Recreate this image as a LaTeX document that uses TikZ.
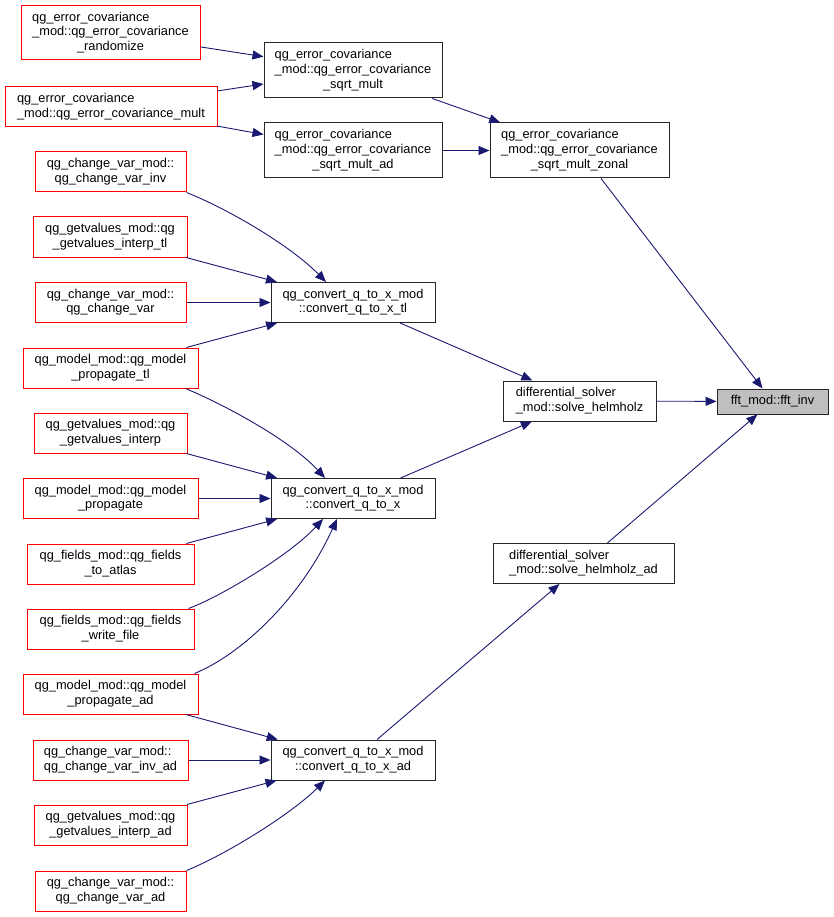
\documentclass[tikz,border=0pt]{standalone}
\usepackage{fontspec}
\setmainfont{Liberation Sans}
\usetikzlibrary{arrows.meta,calc}
\definecolor{edgeblue}{HTML}{191970}
\definecolor{nodegray}{HTML}{BFBFBF}
\newcommand{\dlabel}[2]{\begin{tabular}{@{}l@{}}#1\\\multicolumn{1}{@{}c@{}}{#2}\end{tabular}}
\tikzset{
  boxbase/.style={draw, rectangle, inner sep=0pt, font=\fontsize{12.8}{14.6}\selectfont, line width=1pt},
  redbox/.style={boxbase, draw=red},
  blackbox/.style={boxbase, draw=black!85},
  graybox/.style={boxbase, draw=black!85, fill=nodegray},
  callarrow/.style={draw=edgeblue, line width=0.9pt, -{Triangle[length=11pt,width=9pt]}},
}
\begin{document}
\begin{tikzpicture}[x=1pt,y=-1pt]
\useasboundingbox (0,0) rectangle (833,917);
% right part
\node[graybox, minimum width=111pt, minimum height=25pt] (fft) at (772.5,401.5) {fft\_mod::fft\_inv};
\node[blackbox, minimum width=179pt, minimum height=55pt] (zonal) at (579.5,150.5) {\dlabel{qg\_error\_covariance\\\_mod::qg\_error\_covariance}{\_sqrt\_mult\_zonal}};
\node[blackbox, minimum width=153pt, minimum height=40pt] (helm) at (579.5,401) {\dlabel{differential\_solver}{\_mod::solve\_helmholz}};
\node[blackbox, minimum width=181pt, minimum height=40pt] (helmad) at (583.5,563.5) {\dlabel{differential\_solver}{\_mod::solve\_helmholz\_ad}};
% middle column
\node[blackbox, minimum width=178pt, minimum height=55pt] (sqm) at (353,70.5) {\dlabel{qg\_error\_covariance\\\_mod::qg\_error\_covariance}{\_sqrt\_mult}};
\node[blackbox, minimum width=178pt, minimum height=55pt] (sqmad) at (353,150.5) {\dlabel{qg\_error\_covariance\\\_mod::qg\_error\_covariance}{\_sqrt\_mult\_ad}};
\node[blackbox, minimum width=164pt, minimum height=40pt] (ctl) at (353,302.5) {\dlabel{qg\_convert\_q\_to\_x\_mod}{::convert\_q\_to\_x\_tl}};
\node[blackbox, minimum width=164pt, minimum height=40pt] (cx) at (353,498.5) {\dlabel{qg\_convert\_q\_to\_x\_mod}{::convert\_q\_to\_x}};
\node[blackbox, minimum width=164pt, minimum height=40pt] (cad) at (353,760) {\dlabel{qg\_convert\_q\_to\_x\_mod}{::convert\_q\_to\_x\_ad}};
% left column
\node[redbox, minimum width=179pt, minimum height=54pt] (rand) at (110.5,33) {\dlabel{qg\_error\_covariance\\\_mod::qg\_error\_covariance}{\_randomize}};
\node[redbox, minimum width=212pt, minimum height=40pt] (mult) at (111,107) {\dlabel{qg\_error\_covariance}{\_mod::qg\_error\_covariance\_mult}};
\node[redbox, minimum width=151pt, minimum height=40pt] (cvinv) at (110.5,172) {\dlabel{qg\_change\_var\_mod::}{qg\_change\_var\_inv}};
\node[redbox, minimum width=154pt, minimum height=40pt] (gvtl) at (110,237) {\dlabel{qg\_getvalues\_mod::qg}{\_getvalues\_interp\_tl}};
\node[redbox, minimum width=151pt, minimum height=40pt] (cv) at (110.5,302.5) {\dlabel{qg\_change\_var\_mod::}{qg\_change\_var}};
\node[redbox, minimum width=175pt, minimum height=40pt] (ptl) at (110.5,368) {\dlabel{qg\_model\_mod::qg\_model}{\_propagate\_tl}};
\node[redbox, minimum width=153pt, minimum height=40pt] (gv) at (110.5,433) {\dlabel{qg\_getvalues\_mod::qg}{\_getvalues\_interp}};
\node[redbox, minimum width=175pt, minimum height=40pt] (prop) at (110.5,498.5) {\dlabel{qg\_model\_mod::qg\_model}{\_propagate}};
\node[redbox, minimum width=167pt, minimum height=40pt] (fta) at (110.5,564) {\dlabel{qg\_fields\_mod::qg\_fields}{\_to\_atlas}};
\node[redbox, minimum width=167pt, minimum height=40pt] (wf) at (110.5,629) {\dlabel{qg\_fields\_mod::qg\_fields}{\_write\_file}};
\node[redbox, minimum width=175pt, minimum height=40pt] (pad) at (110.5,694) {\dlabel{qg\_model\_mod::qg\_model}{\_propagate\_ad}};
\node[redbox, minimum width=155pt, minimum height=40pt] (cviad) at (110.5,760) {\dlabel{qg\_change\_var\_mod::}{qg\_change\_var\_inv\_ad}};
\node[redbox, minimum width=153pt, minimum height=40pt] (gvad) at (110.5,825) {\dlabel{qg\_getvalues\_mod::qg}{\_getvalues\_interp\_ad}};
\node[redbox, minimum width=151pt, minimum height=40pt] (cvad) at (110.5,891) {\dlabel{qg\_change\_var\_mod::}{qg\_change\_var\_ad}};
% edges
\draw[callarrow] (rand) -- (sqm);
\draw[callarrow] (mult) -- (sqm);
\draw[callarrow] (mult) -- (sqmad);
\draw[callarrow] (sqm) -- (zonal);
\draw[callarrow] (sqmad) -- (zonal);
\draw[callarrow] (zonal) -- (fft);
\draw[callarrow] (helm) -- (fft);
\draw[callarrow] (helmad) -- (fft);
\draw[callarrow] (ctl) -- (helm);
\draw[callarrow] (cx) -- (helm);
\draw[callarrow] (cad) -- (helmad);
\draw[callarrow] (cvinv.south east) .. controls (226,208) and (290,245) .. ($(ctl.north)+(-27,0)$);
\draw[callarrow] (gvtl) -- (ctl);
\draw[callarrow] (cv) -- (ctl);
\draw[callarrow] (ptl) -- (ctl);
\draw[callarrow] ($(ptl.south east)+(-13,0)$) .. controls (225,405) and (290,440) .. ($(cx.north)+(-28,0)$);
\draw[callarrow] (gv) -- (cx);
\draw[callarrow] (prop) -- (cx);
\draw[callarrow] (fta) -- (cx);
\draw[callarrow] ($(wf.north east)+(-6,0)$) .. controls (220,597) and (290,555) .. ($(cx.south)+(-30,0)$);
\draw[callarrow] ($(pad.north east)+(-4,0)$) .. controls (240,655) and (300,600) .. ($(cx.south)+(-16,0)$);
\draw[callarrow] (pad) -- (cad);
\draw[callarrow] (cviad) -- (cad);
\draw[callarrow] (gvad) -- (cad);
\draw[callarrow] (cvad.north east) .. controls (225,855) and (290,815) .. ($(cad.south)+(-28,0)$);
\end{tikzpicture}
\end{document}
